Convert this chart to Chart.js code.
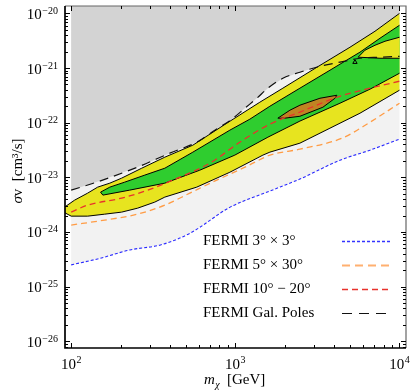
<!DOCTYPE html>
<html><head><meta charset="utf-8">
<script src="https://cdn.jsdelivr.net/npm/chart.js@4.4.1/dist/chart.umd.min.js"></script>
<style>html,body{margin:0;padding:0;background:#fff;}#wrap{width:411px;height:392px;position:relative;}</style>
</head><body><div id="wrap"><canvas id="c"></canvas></div>
<script>
// ---------- data (m_chi in GeV, sigma v in cm^3/s) ----------
const massFermi3x3 = [100, 150, 228, 350, 530, 930, 1620, 2470, 4340, 6610, 10000];
const svFermi3x3   = [2.5e-25, 3.3e-25, 4.7e-25, 5.8e-25, 9.5e-25, 2.85e-24, 5.6e-24, 9.3e-24, 2.06e-23, 3.14e-23, 5.0e-23];

const massFermi5x30 = [100, 160, 254, 372, 528, 771, 1111, 1472, 1623, 2474, 4460, 6609, 10000];
const svFermi5x30   = [1.34e-24, 1.65e-24, 2.12e-24, 3.1e-24, 5.14e-24, 8.9e-24, 1.47e-23, 2.24e-23, 2.55e-23, 3.28e-23, 5.2e-23, 1.02e-22, 2.27e-22];

const massFermi10_20 = [100, 126, 203, 293, 416, 699, 1111, 1623, 2474, 4158, 6609, 10000];
const svFermi10_20   = [2.31e-24, 3.1e-24, 4.17e-24, 5.83e-24, 8.9e-24, 1.82e-23, 4.79e-23, 9.39e-23, 1.56e-22, 2.92e-22, 4.28e-22, 5.74e-22];

const massGalPoles = [100, 149, 262, 399, 582, 750, 952, 1143, 1352, 1579, 1948, 2474, 3276, 4337, 5743, 7604, 10000];
const svGalPoles   = [5.83e-24, 8.53e-24, 1.6e-23, 2.77e-23, 4.4e-23, 7.3e-23, 1.16e-22, 1.84e-22, 2.8e-22, 4.28e-22, 6.51e-22, 8.38e-22, 1.08e-21, 1.28e-21, 1.51e-21, 1.58e-21, 1.64e-21];

const grayBoundaryMass = [100, 149, 262, 399, 582, 750, 952, 1143, 1352, 1579, 1948, 2474, 3141, 4991, 7089, 10000];
const grayBoundarySv   = [5.83e-24, 8.53e-24, 1.6e-23, 2.77e-23, 4.4e-23, 7.3e-23, 1.16e-22, 1.84e-22, 2.8e-22, 4.28e-22, 6.51e-22, 8.38e-22, 1.035e-21, 2.4e-21, 4.71e-21, 1.0e-20];

const bandUpperMass = [87.5, 105, 126, 145, 172, 203, 269, 372, 551, 888, 1410, 1948, 3141, 4991, 7089, 10000];
const bandUpperSv   = [2.62e-24, 3.83e-24, 5.14e-24, 6.62e-24, 7.83e-24, 9.67e-24, 1.47e-23, 2.34e-23, 3.88e-23, 9.8e-23, 2.37e-22, 4.28e-22, 1.035e-21, 2.4e-21, 4.71e-21, 1.0e-20];
const bandLowerMass = [10000, 5743, 3770, 2474, 1623, 1472, 926, 582, 372, 323, 254, 203, 160, 126, 100, 87.5];
const bandLowerSv   = [3.93e-22, 1.49e-22, 7.93e-23, 4.22e-23, 2.89e-23, 2.55e-23, 1.24e-23, 6.62e-24, 4.35e-24, 3.52e-24, 2.73e-24, 2.31e-24, 2.12e-24, 1.95e-24, 1.95e-24, 2.41e-24];

const greenUpperMass = [151, 172, 212, 281, 372, 551, 926, 1226, 1623, 2474, 3770, 5743, 7604, 10000];
const greenUpperSv   = [5.36e-24, 6.62e-24, 8.17e-24, 1.1e-23, 1.47e-23, 2.89e-23, 7.3e-23, 1.16e-22, 2.0e-22, 4.28e-22, 9.12e-22, 1.95e-21, 3.51e-21, 6.06e-21];
const greenLowerMass = [10000, 6609, 4337, 2474, 1579, 993, 607, 372, 227, 156];
const greenLowerSv   = [8.03e-22, 4.1e-22, 2.27e-22, 1.07e-22, 5.43e-23, 2.55e-23, 1.35e-23, 7.83e-24, 5.83e-24, 4.73e-24];

const tongueUpperMass = [5600, 6162, 7089, 8158, 10000];
const tongueUpperSv   = [1.58e-21, 2.12e-21, 2.61e-21, 3.09e-21, 3.66e-21];
const tongueLowerMass = [10000, 7604, 5600];
const tongueLowerSv   = [1.51e-21, 1.51e-21, 1.58e-21];

const bestUpperMass = [1816, 2149, 2474, 3276, 4158];
const bestUpperSv   = [1.21e-22, 1.69e-22, 2.09e-22, 2.8e-22, 3.18e-22];
const bestLowerMass = [4044, 3416, 2474, 2003];
const bestLowerSv   = [2.8e-22, 1.92e-22, 1.31e-22, 1.21e-22];

const bestPointMass = [5355];
const bestPointSv   = [1.28e-21];

const xMajorTicks = [100, 1000, 10000];
const yMajorExponents = [-26, -25, -24, -23, -22, -21, -20];
const legendLabels = ['FERMI 3\u00B0 \u00D7 3\u00B0', 'FERMI 5\u00B0 \u00D7 30\u00B0', 'FERMI 10\u00B0 \u2212 20\u00B0', 'FERMI Gal. Poles'];

const X_MIN = 91.7, X_MAX = 10955, Y_MIN = 7.54e-27, Y_MAX = 1.365e-20, TOP = 1e-19;

// ---------- helpers ----------
const pts = (xs, ys) => xs.map((x, i) => ({x, y: ys[i]}));
function polygon(ux, uy, lx, ly) {
  const p = pts(ux, uy).concat(pts(lx, ly));
  p.push(p[0]);
  return p;
}
// open outline: lower edge (right->left) then upper edge (left->right); skips the cut at 10^4 GeV
function outline(ux, uy, lx, ly) {
  return pts(lx, ly).concat(pts(ux, uy));
}
const CLEAR = 'rgba(0,0,0,0)';

const styles = {
  blue:   {color: '#2a2aff', dash: [3, 2], width: 1.1},
  orange: {color: '#ff9c45', dash: [6, 4], width: 1.3},
  red:    {color: '#e8322c', dash: [6, 4], width: 1.3},
  black:  {color: '#111111', dash: [9, 6], width: 1.2}
};
function dashed(label, xs, ys, st, order) {
  return {label, data: pts(xs, ys), borderColor: st.color, borderDash: st.dash, borderWidth: st.width,
          pointRadius: 0, fill: false, cubicInterpolationMode: 'monotone', order};
}
function region(label, data, bg, order) {
  return {label, data, backgroundColor: bg, fill: 'shape', pointRadius: 0, tension: 0, order,
          borderColor: CLEAR, borderWidth: 1};
}
function edge(label, data, order) {
  return {label, data, borderColor: '#000', borderWidth: 1, fill: false, pointRadius: 0, tension: 0, order};
}

const datasets = [
  region('allowed', polygon(massFermi3x3, svFermi3x3, [10000, 100], [TOP, TOP]), '#f2f2f2', 30),
  region('excluded', polygon(grayBoundaryMass, grayBoundarySv, [10000, 100], [TOP, TOP]), '#d3d3d3', 29),
  region('band', polygon(bandUpperMass, bandUpperSv, bandLowerMass, bandLowerSv), '#e7e41f', 28),
  edge('band edge', outline(bandUpperMass, bandUpperSv, bandLowerMass, bandLowerSv), 27),
  region('inner', polygon(greenUpperMass, greenUpperSv, greenLowerMass, greenLowerSv), '#2fcd2f', 26),
  edge('inner edge', outline(greenUpperMass, greenUpperSv, greenLowerMass, greenLowerSv), 25),
  region('tongue', polygon(tongueUpperMass, tongueUpperSv, tongueLowerMass, tongueLowerSv), '#e7e41f', 24),
  edge('tongue edge', outline(tongueUpperMass, tongueUpperSv, tongueLowerMass, tongueLowerSv), 23),
  region('best', polygon(bestUpperMass, bestUpperSv, bestLowerMass, bestLowerSv), '#bf8422', 22),
  edge('best edge', polygon(bestUpperMass, bestUpperSv, bestLowerMass, bestLowerSv), 21),
  dashed(legendLabels[0], massFermi3x3, svFermi3x3, styles.blue, 4),
  dashed(legendLabels[1], massFermi5x30, svFermi5x30, styles.orange, 3),
  dashed(legendLabels[2], massFermi10_20, svFermi10_20, styles.red, 2),
  dashed(legendLabels[3], massGalPoles, svGalPoles, styles.black, 1),
  {label: 'best point', data: pts(bestPointMass, bestPointSv), showLine: false, pointStyle: 'triangle',
   pointRadius: 2.5, pointBorderWidth: 1, pointBorderColor: '#000', pointBackgroundColor: CLEAR, order: 0}
];

const SERIF = '"Liberation Serif", "Times New Roman", serif';

const frame = {
  id: 'frame',
  afterDraw(chart) {
    const {ctx, chartArea: a, scales: {x, y}} = chart;
    ctx.save();
    ctx.strokeStyle = '#666'; ctx.lineWidth = 1.2;
    ctx.beginPath();
    ctx.moveTo(a.left, a.top); ctx.lineTo(a.right, a.top); ctx.lineTo(a.right, a.bottom);
    ctx.stroke();
    ctx.strokeStyle = '#000'; ctx.lineWidth = 1.7;
    ctx.beginPath();
    ctx.moveTo(a.left, a.top); ctx.lineTo(a.left, a.bottom); ctx.lineTo(a.right, a.bottom);
    ctx.stroke();
    ctx.lineWidth = 1; ctx.strokeStyle = '#000';
    ctx.beginPath();
    for (let d = 1; d <= 4; d++) for (let k = 1; k <= 9; k++) {
      const v = k * Math.pow(10, d);
      if (v < X_MIN || v > X_MAX) continue;
      const px = Math.round(x.getPixelForValue(v)) + 0.5, L = k === 1 ? 5 : 3;
      ctx.moveTo(px, a.bottom); ctx.lineTo(px, a.bottom - L);
      ctx.moveTo(px, a.top); ctx.lineTo(px, a.top + L);
    }
    for (let d = -27; d <= -20; d++) for (let k = 1; k <= 9; k++) {
      const v = k * Math.pow(10, d);
      if (v < Y_MIN || v > Y_MAX) continue;
      const py = Math.round(y.getPixelForValue(v)) + 0.5, L = k === 1 ? 5 : 3;
      ctx.moveTo(a.left, py); ctx.lineTo(a.left + L, py);
      ctx.moveTo(a.right, py); ctx.lineTo(a.right - L, py);
    }
    ctx.stroke();

    ctx.fillStyle = '#000'; ctx.textBaseline = 'alphabetic'; ctx.textAlign = 'left';
    const big = '15px ' + SERIF, small = '10px ' + SERIF;
    yMajorExponents.forEach(e => {
      const py = y.getPixelForValue(Math.pow(10, e));
      const es = '\u2212' + Math.abs(e);
      ctx.font = small; const we = ctx.measureText(es).width;
      ctx.font = big; const wb = ctx.measureText('10').width;
      const right = a.left - 7;
      ctx.fillText('10', right - we - wb - 0.5, py + 5.5);
      ctx.font = small; ctx.fillText(es, right - we, py + 0.5);
    });
    xMajorTicks.forEach(v => {
      const px = x.getPixelForValue(v);
      const es = String(Math.round(Math.log10(v)));
      ctx.font = small; const we = ctx.measureText(es).width;
      ctx.font = big; const wb = ctx.measureText('10').width;
      const start = px - (wb + we + 0.5) / 2;
      ctx.fillText('10', start, a.bottom + 20.5);
      ctx.font = small; ctx.fillText(es, start + wb + 0.5, a.bottom + 15);
    });

    ctx.font = 'italic 15px ' + SERIF;
    let cx = 204;
    ctx.fillText('m', cx, 383.5); cx += ctx.measureText('m').width;
    ctx.font = 'italic 10px ' + SERIF;
    ctx.fillText('\u03C7', cx + 0.5, 387.5);
    ctx.font = '15px ' + SERIF;
    ctx.fillText('[GeV]', 227, 383.5);

    ctx.save();
    ctx.translate(22, 171);
    ctx.rotate(-Math.PI / 2);
    ctx.font = 'italic 15px ' + SERIF; const w1 = ctx.measureText('\u03C3').width;
    ctx.font = '15px ' + SERIF; const rest = 'v  [cm\u00B3/s]'; const w2 = ctx.measureText(rest).width;
    const sx = -(w1 + w2) / 2;
    ctx.font = 'italic 15px ' + SERIF; ctx.fillText('\u03C3', sx, 0);
    ctx.font = '15px ' + SERIF; ctx.fillText(rest, sx + w1, 0);
    ctx.restore();

    const colors = ['#3434ff', '#ffb070', styles.red.color, styles.black.color];
    const ends = [392, 389, 391, 387];
    const widths = [1.3, 2, 1.4, 1.2];
    const dashes = [[3, 2], [8, 5], [6, 4], [10, 7]];
    legendLabels.forEach((t, i) => {
      const cy = 240 + i * 24;
      ctx.font = '15px ' + SERIF; ctx.fillStyle = '#000';
      ctx.fillText(t, 203, cy + 5);
      ctx.beginPath();
      ctx.setLineDash(dashes[i]); ctx.lineWidth = widths[i];
      ctx.strokeStyle = colors[i];
      ctx.moveTo(342, cy + 1.5); ctx.lineTo(ends[i], cy + 1.5);
      ctx.stroke();
    });
    ctx.setLineDash([]);
    ctx.restore();
  }
};

new Chart(document.getElementById('c'), {
  type: 'line',
  data: {datasets},
  options: {
    responsive: true, maintainAspectRatio: false, animation: false, devicePixelRatio: 1,
    layout: {padding: {left: 65, right: 5, top: 6, bottom: 44}},
    plugins: {legend: {display: false}, tooltip: {enabled: false}},
    events: [],
    scales: {
      x: {type: 'logarithmic', min: X_MIN, max: X_MAX, display: false},
      y: {type: 'logarithmic', min: Y_MIN, max: Y_MAX, display: false}
    }
  },
  plugins: [frame]
});
</script>
</body></html>
